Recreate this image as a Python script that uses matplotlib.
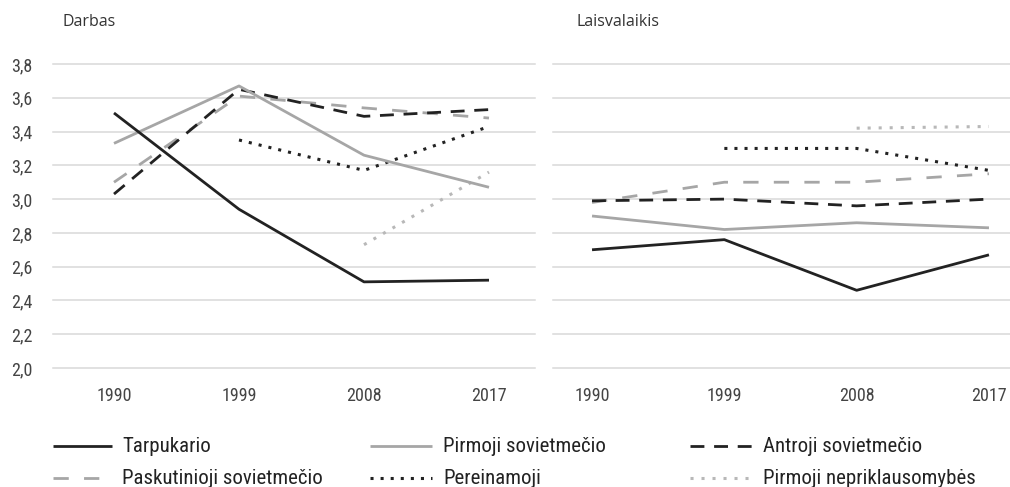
import numpy as np
import matplotlib
matplotlib.use("Agg")
import matplotlib.pyplot as plt
from matplotlib import font_manager
from matplotlib.lines import Line2D

years = ["1990", "1999", "2008", "2017"]
labels = ["Tarpukario", "Pirmoji sovietmečio", "Antroji sovietmečio",
          "Paskutinioji sovietmečio", "Pereinamoji", "Pirmoji nepriklausomybės"]
nan = np.nan
# Darbas
tarpukario_d = [3.51, 2.94, 2.51, 2.52]
pirmoji_sov_d = [3.33, 3.67, 3.26, 3.07]
antroji_sov_d = [3.03, 3.65, 3.49, 3.53]
paskutinioji_sov_d = [3.10, 3.61, 3.54, 3.48]
pereinamoji_d = [nan, 3.35, 3.17, 3.43]
pirmoji_nepr_d = [nan, nan, 2.73, 3.16]
# Laisvalaikis
tarpukario_l = [2.70, 2.76, 2.46, 2.67]
pirmoji_sov_l = [2.90, 2.82, 2.86, 2.83]
antroji_sov_l = [2.99, 3.00, 2.96, 3.00]
paskutinioji_sov_l = [2.98, 3.10, 3.10, 3.15]
pereinamoji_l = [nan, 3.30, 3.30, 3.17]
pirmoji_nepr_l = [nan, nan, 3.42, 3.43]
yticks = [2.0, 2.2, 2.4, 2.6, 2.8, 3.0, 3.2, 3.4, 3.6, 3.8]
ytick_labels = ["2,0", "2,2", "2,4", "2,6", "2,8", "3,0", "3,2", "3,4", "3,6", "3,8"]
titles = ["Darbas", "Laisvalaikis"]

avail = {f.name for f in font_manager.fontManager.ttflist}
def pick(cands):
    for c in cands:
        if c in avail:
            return c
    return "DejaVu Sans"
cond = pick(["Roboto Condensed", "Liberation Sans Narrow", "Open Sans Condensed", "DejaVu Sans"])
title_font = pick(["Open Sans", "Noto Sans", "DejaVu Sans"])

BLACK = "#222222"
GRAY = "#a6a6a6"
LGRAY = "#b8b8b8"
LW = 2.0
styles = [
    dict(color=BLACK, lw=LW, ls="-"),
    dict(color=GRAY, lw=LW, ls="-"),
    dict(color=BLACK, lw=LW, ls=(0, (5, 3.5))),
    dict(color=GRAY, lw=LW, ls=(0, (5.5, 5.5))),
    dict(color=BLACK, lw=2.2, ls=(0, (1, 2.3))),
    dict(color=LGRAY, lw=2.2, ls=(0, (1, 2.6))),
]

fig = plt.figure(figsize=(10.10, 4.87), dpi=100)
axL = fig.add_axes([53/1010, 1-368/487, 482/1010, 304/487])
axR = fig.add_axes([553/1010, 1-368/487, 457/1010, 304/487])

data_sets = [
    [tarpukario_d, pirmoji_sov_d, antroji_sov_d, paskutinioji_sov_d, pereinamoji_d, pirmoji_nepr_d],
    [tarpukario_l, pirmoji_sov_l, antroji_sov_l, paskutinioji_sov_l, pereinamoji_l, pirmoji_nepr_l],
]
xlims = [(-0.488, 3.368), (-0.295, 3.159)]
x = np.arange(len(years))
order = [5, 4, 3, 2, 1, 0]
for i, (ax, ds) in enumerate(zip([axL, axR], data_sets)):
    for k in order:
        ax.plot(x, ds[k], zorder=3 + (6 - k) * 0.01, solid_capstyle="butt", **styles[k])
    ax.set_xlim(*xlims[i])
    ax.set_ylim(2.0, 3.8)
    ax.set_yticks(yticks)
    ax.set_xticks(x)
    ax.set_xticklabels(years, fontfamily=cond, fontsize=13, color="#444444")
    if i == 0:
        ax.set_yticklabels(ytick_labels, fontfamily=cond, fontsize=13, color="#444444")
    else:
        ax.set_yticklabels([])
    ax.tick_params(axis="both", length=0)
    ax.tick_params(axis="x", pad=14)
    ax.tick_params(axis="y", pad=15)
    for s in ax.spines.values():
        s.set_visible(False)
    ax.grid(axis="y", color="#d9d9d9", lw=1.1, zorder=0)
    ax.set_axisbelow(True)
    for t in ax.get_ygridlines():
        t.set_clip_on(False)

fig.text(63/1010, 1-22/487, titles[0], fontfamily=title_font, fontsize=11.5, color="#333333", va="center", ha="left")
fig.text(577/1010, 1-22/487, titles[1], fontfamily=title_font, fontsize=11.5, color="#333333", va="center", ha="left")

# legend: three columns, two rows
col_handle_x = [53, 370, 690]
col_text_x = [122, 443, 763]
row_y = [446, 478]
hlen = [59, 62, 62]
positions = [(0, 0), (1, 0), (2, 0), (0, 1), (1, 1), (2, 1)]
for k, (c, r) in enumerate(positions):
    y = 1 - row_y[r]/487
    x0 = col_handle_x[c]/1010
    x1 = (col_handle_x[c] + hlen[c])/1010
    st = dict(styles[k])
    ln = Line2D([x0, x1], [y, y], transform=fig.transFigure, solid_capstyle="butt", **st)
    fig.add_artist(ln)
    fig.text(col_text_x[c]/1010, y, labels[k], fontfamily=cond, fontsize=15,
             color="#222222", va="center", ha="left")

fig.savefig("out.png", dpi=100)
